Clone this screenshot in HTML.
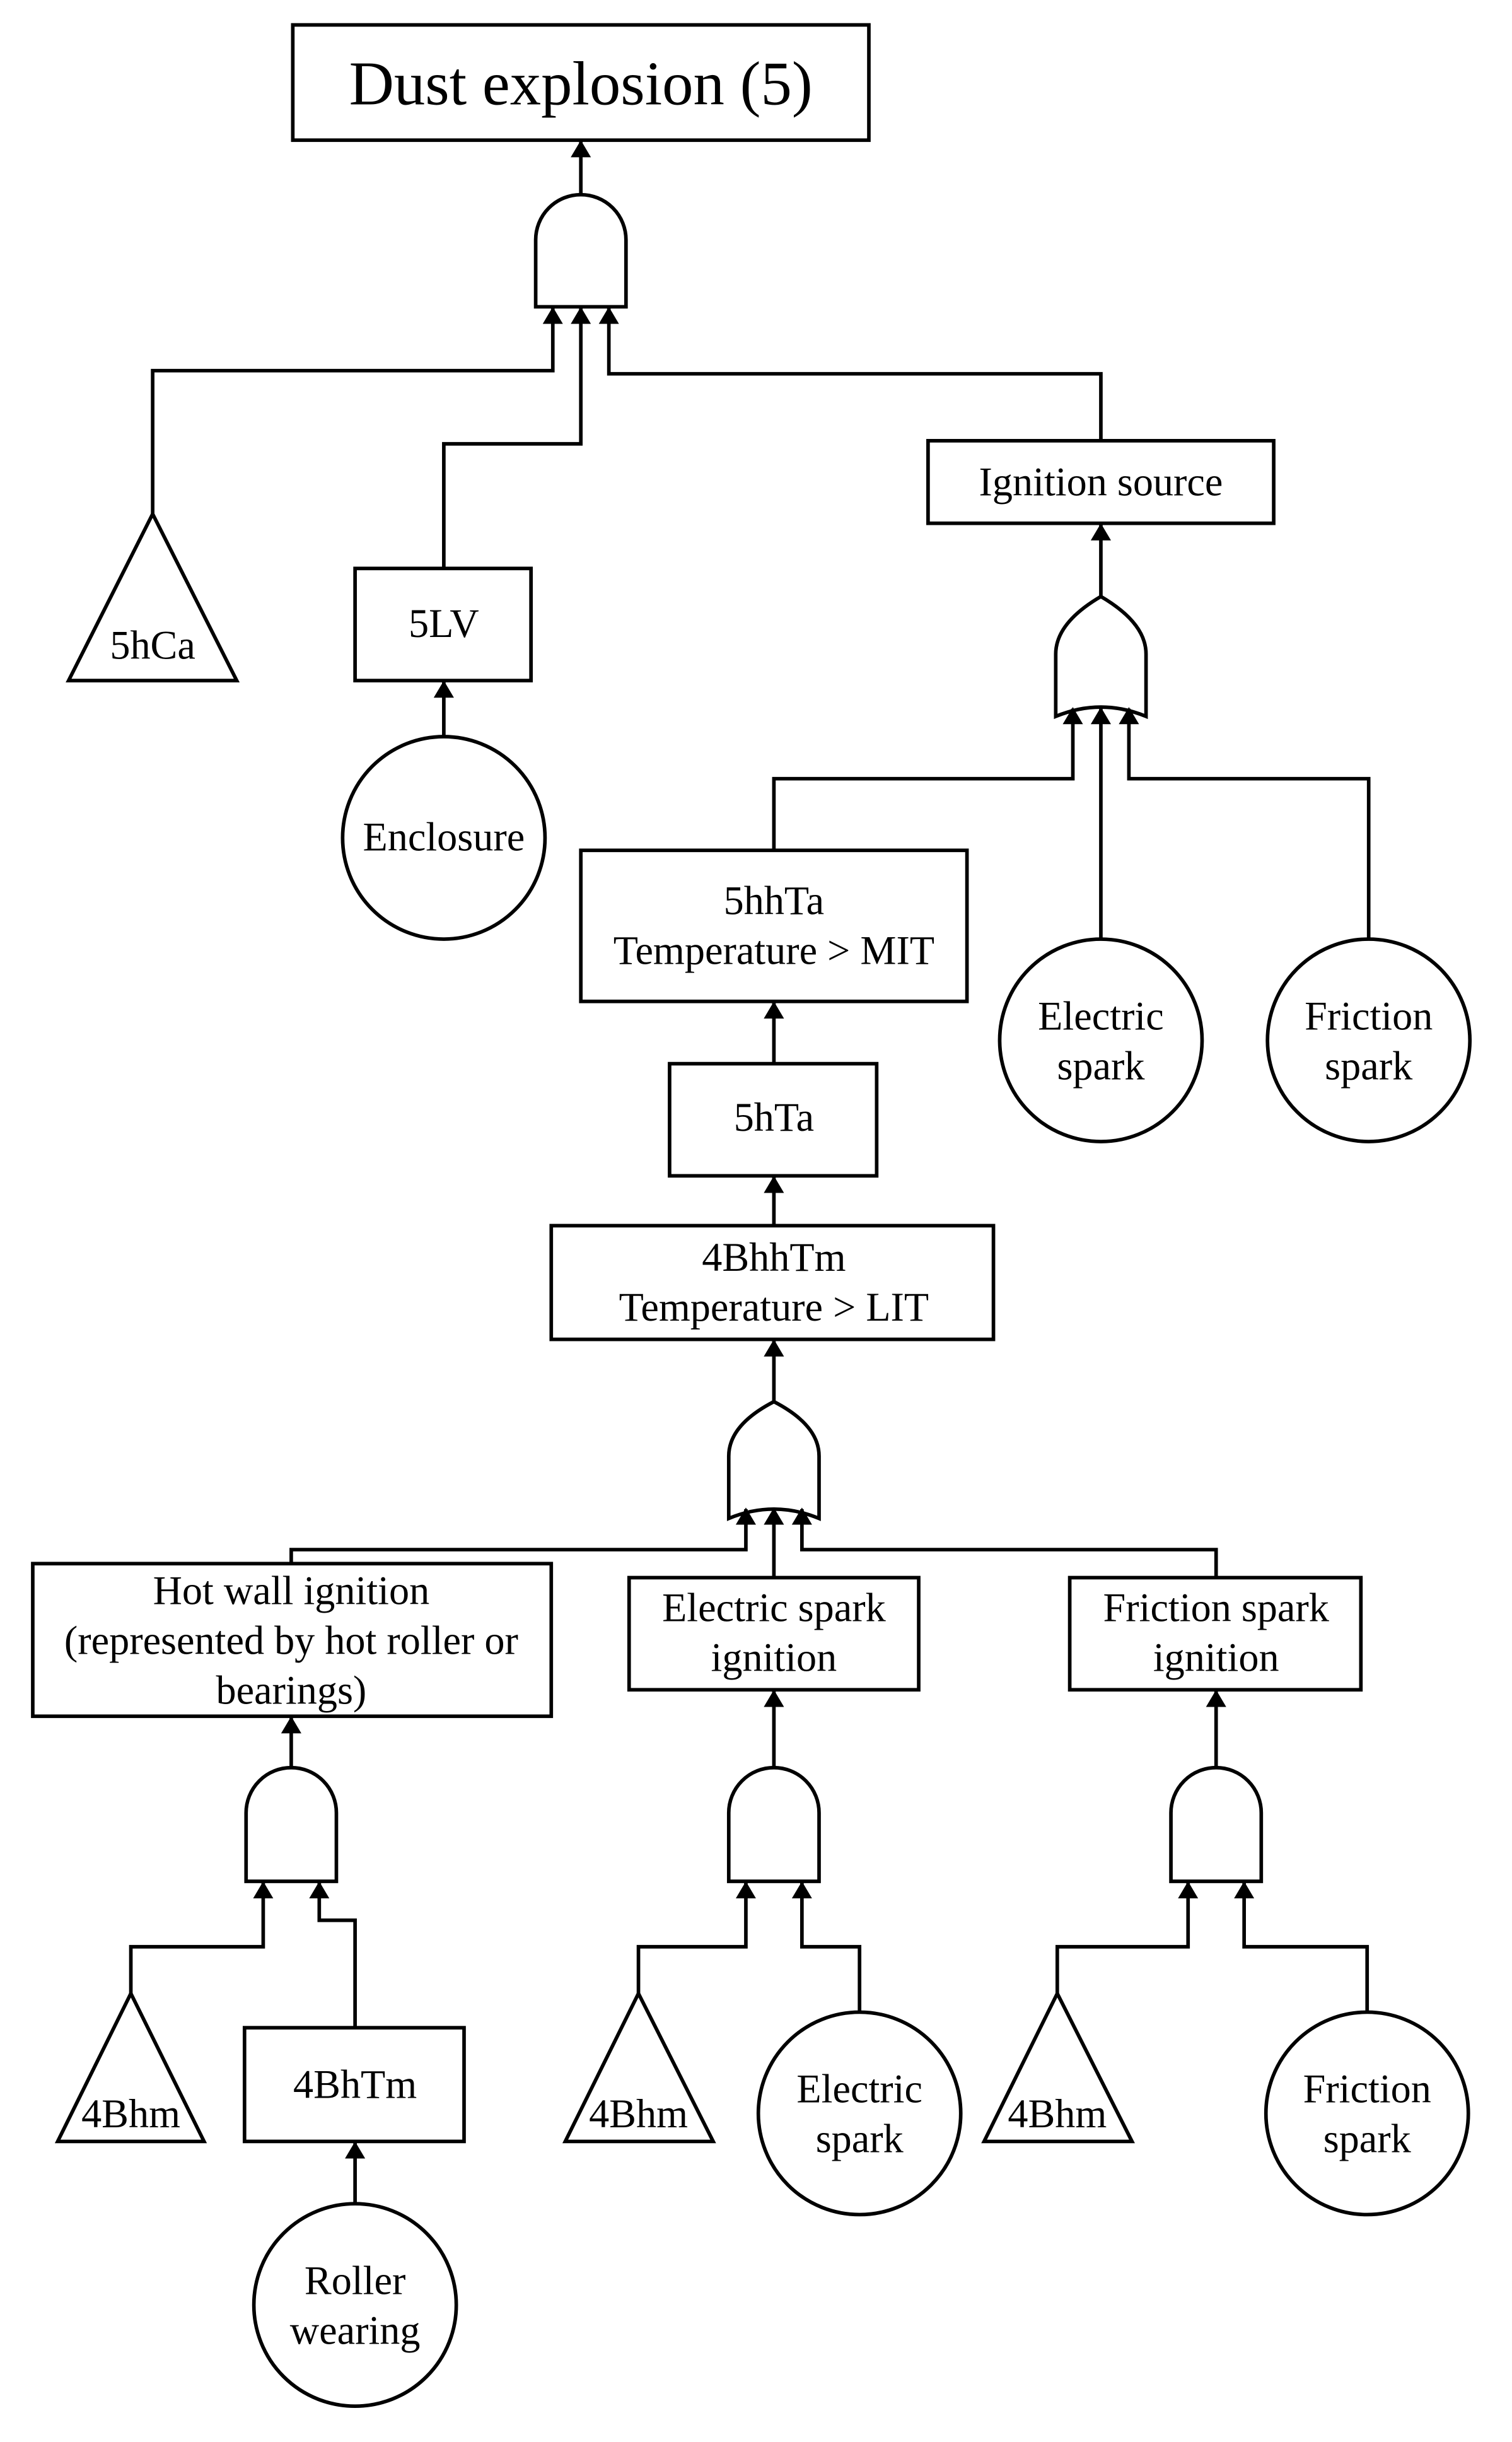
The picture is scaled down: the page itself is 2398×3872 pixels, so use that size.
<!DOCTYPE html>
<html><head><meta charset="utf-8"><style>
html,body{margin:0;padding:0;background:#fff;}
svg{display:block;}
text{font-family:"Liberation Serif",serif;fill:#000;text-anchor:middle;}
</style></head><body>
<svg width="2398" height="3872" viewBox="0 0 971 1568" xmlns="http://www.w3.org/2000/svg">
<defs>
<marker id="a" markerWidth="11" markerHeight="14" refX="10" refY="6.5" orient="auto" markerUnits="userSpaceOnUse" viewBox="0 0 11 13">
<path d="M0,0 L11,6.5 L0,13 Z" fill="#000"/>
</marker>
</defs>
<g fill="none" stroke="#000" stroke-width="2.3">
<rect x="188" y="16" width="370" height="74"/>
<rect x="228" y="365" width="113" height="72"/>
<rect x="596" y="283" width="222" height="53"/>
<rect x="373" y="546" width="248" height="97"/>
<rect x="430" y="683" width="133" height="72"/>
<rect x="354" y="787" width="284" height="73"/>
<rect x="21" y="1004" width="333" height="98"/>
<rect x="404" y="1013" width="186" height="72"/>
<rect x="687" y="1013" width="187" height="72"/>
<rect x="157" y="1302" width="141" height="73"/>
<circle cx="285" cy="538" r="65"/>
<circle cx="707" cy="668" r="65"/>
<circle cx="879" cy="668" r="65"/>
<circle cx="228" cy="1480" r="65"/>
<circle cx="552" cy="1357" r="65"/>
<circle cx="878" cy="1357" r="65"/>
<path d="M98,330 L152,437 L44,437 Z"/>
<path d="M84,1280 L131,1375 L37,1375 Z"/>
<path d="M410,1280 L458,1375 L363,1375 Z"/>
<path d="M679,1280 L727,1375 L632,1375 Z"/>
<path d="M344,197 L344,154 A29,29 0 0 1 402,154 L402,197 Z"/>
<path d="M158,1208 L158,1164 A29,29 0 0 1 216,1164 L216,1208 Z"/>
<path d="M468,1208 L468,1164 A29,29 0 0 1 526,1164 L526,1208 Z"/>
<path d="M752,1208 L752,1164 A29,29 0 0 1 810,1164 L810,1208 Z"/>
<path d="M678,460 L678,420 Q678,400 707,383 Q736,400 736,420 L736,460 Q707,448 678,460 Z"/>
<path d="M468,975 L468,935 Q468,915 497,900 Q526,915 526,935 L526,975 Q497,963 468,975 Z"/>
<g marker-end="url(#a)">
<path d="M373,125 L373,91"/>
<path d="M98,330 L98,238 L355,238 L355,198"/>
<path d="M285,365 L285,285 L373,285 L373,198"/>
<path d="M707,283 L707,240 L391,240 L391,198"/>
<path d="M285,473 L285,438"/>
<path d="M707,383 L707,337"/>
<path d="M497,546 L497,500 L689,500 L689,455"/>
<path d="M707,603 L707,455"/>
<path d="M879,603 L879,500 L725,500 L725,455"/>
<path d="M497,683 L497,644"/>
<path d="M497,787 L497,756"/>
<path d="M497,900 L497,861"/>
<path d="M187,1004 L187,995 L479,995 L479,969"/>
<path d="M497,1013 L497,969"/>
<path d="M781,1013 L781,995 L515,995 L515,969"/>
<path d="M187,1135 L187,1103"/>
<path d="M497,1135 L497,1086"/>
<path d="M781,1135 L781,1086"/>
<path d="M84,1280 L84,1250 L169,1250 L169,1209"/>
<path d="M228,1302 L228,1233 L205,1233 L205,1209"/>
<path d="M228,1415 L228,1376"/>
<path d="M410,1280 L410,1250 L479,1250 L479,1209"/>
<path d="M552,1292 L552,1250 L515,1250 L515,1209"/>
<path d="M679,1280 L679,1250 L763,1250 L763,1209"/>
<path d="M878,1292 L878,1250 L799,1250 L799,1209"/>
</g>
</g>
<g font-size="26">
<text x="373" y="67" font-size="40">Dust explosion (5)</text>
<text x="98" y="423">5hCa</text>
<text x="285" y="409">5LV</text>
<text x="707" y="318">Ignition source</text>
<text x="285" y="546">Enclosure</text>
<text x="497" y="587">5hhTa</text>
<text x="497" y="619">Temperature &gt; MIT</text>
<text x="707" y="661">Electric</text>
<text x="707" y="693">spark</text>
<text x="879" y="661">Friction</text>
<text x="879" y="693">spark</text>
<text x="497" y="726">5hTa</text>
<text x="497" y="816">4BhhTm</text>
<text x="497" y="848">Temperature &gt; LIT</text>
<text x="187" y="1030">Hot wall ignition</text>
<text x="187" y="1062">(represented by hot roller or</text>
<text x="187" y="1094">bearings)</text>
<text x="497" y="1041">Electric spark</text>
<text x="497" y="1073">ignition</text>
<text x="781" y="1041">Friction spark</text>
<text x="781" y="1073">ignition</text>
<text x="84" y="1366">4Bhm</text>
<text x="228" y="1347">4BhTm</text>
<text x="410" y="1366">4Bhm</text>
<text x="552" y="1350">Electric</text>
<text x="552" y="1382">spark</text>
<text x="679" y="1366">4Bhm</text>
<text x="878" y="1350">Friction</text>
<text x="878" y="1382">spark</text>
<text x="228" y="1473">Roller</text>
<text x="228" y="1505">wearing</text>
</g>
</svg>
</body></html>
